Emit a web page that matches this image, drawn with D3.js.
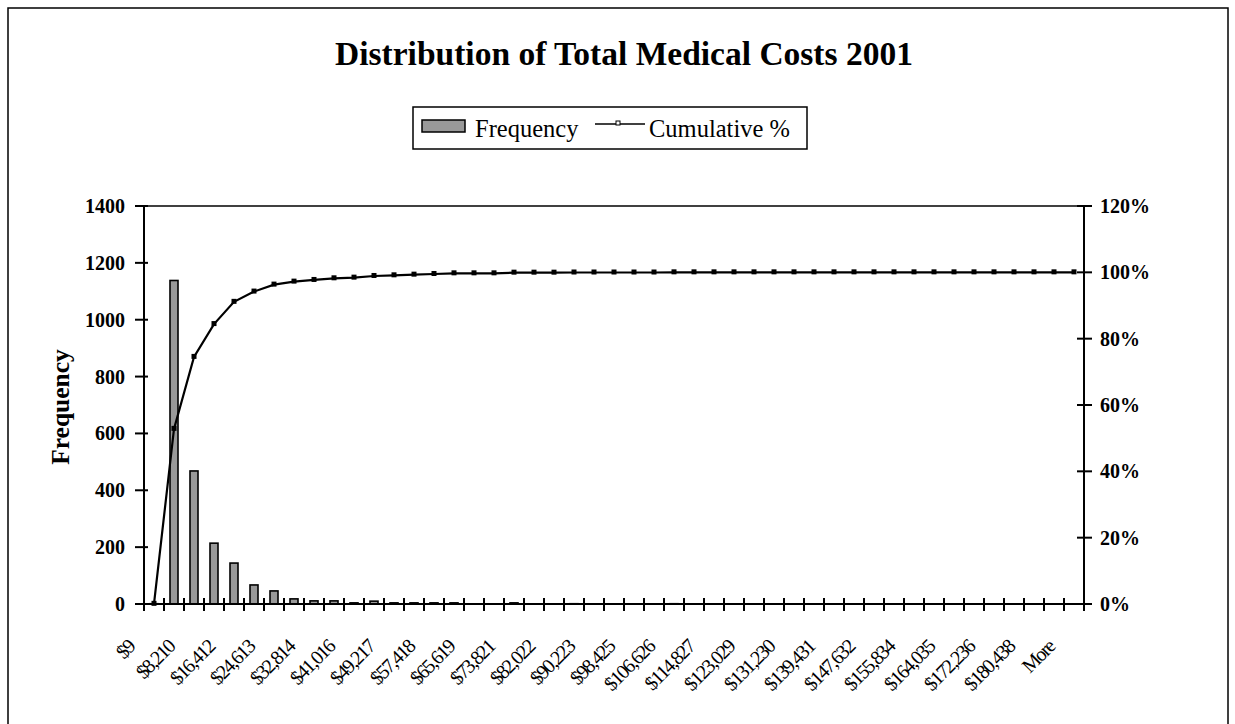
<!DOCTYPE html>
<html>
<head>
<meta charset="utf-8">
<script src="https://cdn.jsdelivr.net/npm/d3@7/dist/d3.min.js"></script>
<style>
  html, body { margin: 0; padding: 0; background: #fff; }
  svg { display: block; }
  text { font-family: "Liberation Serif", "Times New Roman", serif; fill: #000; }
</style>
</head>
<body>
<svg id="chart" width="1235" height="724"></svg>
<script>
// Histogram bins (upper bound of each cost bin)
const categories = [
  "$9", "$4,110", "$8,210", "$12,311", "$16,412", "$20,512", "$24,613", "$28,713",
  "$32,814", "$36,915", "$41,016", "$45,116", "$49,217", "$53,318", "$57,418", "$61,519",
  "$65,619", "$69,720", "$73,821", "$77,921", "$82,022", "$86,123", "$90,223", "$94,324",
  "$98,425", "$102,525", "$106,626", "$110,727", "$114,827", "$118,928", "$123,029", "$127,129",
  "$131,230", "$135,331", "$139,431", "$143,532", "$147,632", "$151,733", "$155,834", "$159,934",
  "$164,035", "$168,136", "$172,236", "$176,337", "$180,438", "$184,538", "More"
];

// Number of patients per bin
const frequency = [
  1, 1138, 468, 214, 144, 67, 46, 18, 11, 11, 4, 10, 4, 4, 4, 4,
  0, 0, 4, 0, 0, 1, 0, 0, 0, 0, 1, 0, 0, 0, 0, 0,
  0, 0, 0, 0, 0, 0, 0, 0, 0, 0, 0, 0, 0, 0, 0
];

// Cumulative share of patients (percent)
const cumulative = [
  0.05, 52.8, 74.5, 84.4, 91.1, 94.2, 96.3, 97.2, 97.7, 98.2, 98.4, 98.9, 99.1, 99.3, 99.5, 99.7,
  99.7, 99.7, 99.9, 99.9, 99.9, 99.95, 99.95, 99.95, 99.95, 99.95, 100, 100, 100, 100, 100, 100,
  100, 100, 100, 100, 100, 100, 100, 100, 100, 100, 100, 100, 100, 100, 100
];

const freqTicks = [0, 200, 400, 600, 800, 1000, 1200, 1400];
const pctTicks = [0, 0.2, 0.4, 0.6, 0.8, 1.0, 1.2];

const svg = d3.select("#chart");

// Outer chart frame
svg.append("rect")
  .attr("x", 8).attr("y", 8).attr("width", 1220).attr("height", 740)
  .attr("fill", "#fff").attr("stroke", "#000").attr("stroke-width", 1.5);

const plot = { left: 144, right: 1084, top: 206, bottom: 604 };

const x = d3.scaleBand()
  .domain(categories)
  .range([plot.left, plot.right])
  .paddingInner(0.6)
  .paddingOuter(0.3);
const step = x.step();
const boundary = i => plot.left + i * step;
const center = c => x(c) + x.bandwidth() / 2;

const yL = d3.scaleLinear().domain([0, 1400]).range([plot.bottom, plot.top]);
const yR = d3.scaleLinear().domain([0, 1.2]).range([plot.bottom, plot.top]);

// Title
svg.append("text")
  .attr("x", 624).attr("y", 65)
  .attr("text-anchor", "middle")
  .attr("font-size", 33.5).attr("font-weight", "bold")
  .text("Distribution of Total Medical Costs 2001");

// Legend
const lg = svg.append("g");
lg.append("rect")
  .attr("x", 413).attr("y", 107).attr("width", 394).attr("height", 42)
  .attr("fill", "#fff").attr("stroke", "#000").attr("stroke-width", 1.5);
lg.append("rect")
  .attr("x", 422).attr("y", 120).attr("width", 43).attr("height", 12)
  .attr("fill", "#999999").attr("stroke", "#000").attr("stroke-width", 1.5);
lg.append("text")
  .attr("x", 475).attr("y", 137)
  .attr("font-size", 24.5)
  .text("Frequency");
lg.append("line")
  .attr("x1", 595).attr("x2", 645).attr("y1", 124).attr("y2", 124)
  .attr("stroke", "#000").attr("stroke-width", 1.5);
lg.append("rect")
  .attr("x", 616).attr("y", 121).attr("width", 4).attr("height", 4)
  .attr("fill", "#fff").attr("stroke", "#000").attr("stroke-width", 1);
lg.append("text")
  .attr("x", 649).attr("y", 137)
  .attr("font-size", 24.5)
  .text("Cumulative %");

// Bars
svg.append("g").selectAll("rect")
  .data(categories)
  .join("rect")
  .attr("x", c => x(c))
  .attr("width", x.bandwidth())
  .attr("y", (c, i) => yL(frequency[i]))
  .attr("height", (c, i) => plot.bottom - yL(frequency[i]))
  .attr("fill", "#999999")
  .attr("stroke", "#000")
  .attr("stroke-width", 1.6);

// Axes lines and plot top edge
const axes = svg.append("g").attr("stroke", "#000").attr("stroke-width", 2).attr("fill", "none");
axes.append("line").attr("x1", plot.left).attr("x2", plot.right).attr("y1", plot.top).attr("y2", plot.top).attr("stroke-width", 1.5);
axes.append("line").attr("x1", plot.left).attr("x2", plot.left).attr("y1", plot.top).attr("y2", plot.bottom);
axes.append("line").attr("x1", plot.right).attr("x2", plot.right).attr("y1", plot.top).attr("y2", plot.bottom);
axes.append("line").attr("x1", plot.left - 1).attr("x2", plot.right + 1).attr("y1", plot.bottom).attr("y2", plot.bottom);

// Category boundary ticks (crossing the x axis)
axes.selectAll("line.xt")
  .data(d3.range(categories.length + 1))
  .join("line")
  .attr("class", "xt")
  .attr("x1", i => boundary(i)).attr("x2", i => boundary(i))
  .attr("y1", plot.bottom - 6).attr("y2", plot.bottom + 7);

// Left axis ticks and labels
axes.selectAll("line.yl")
  .data(freqTicks)
  .join("line")
  .attr("class", "yl")
  .attr("x1", plot.left - 9).attr("x2", plot.left + 4)
  .attr("y1", d => yL(d)).attr("y2", d => yL(d));
svg.append("g").selectAll("text")
  .data(freqTicks)
  .join("text")
  .attr("x", plot.left - 19)
  .attr("y", d => yL(d) + 7)
  .attr("text-anchor", "end")
  .attr("font-size", 20).attr("font-weight", "bold")
  .text(d => d);

// Right axis ticks and labels
axes.selectAll("line.yr")
  .data(pctTicks)
  .join("line")
  .attr("class", "yr")
  .attr("x1", plot.right - 7).attr("x2", plot.right + 8)
  .attr("y1", d => yR(d)).attr("y2", d => yR(d));
svg.append("g").selectAll("text")
  .data(pctTicks)
  .join("text")
  .attr("x", plot.right + 16)
  .attr("y", d => yR(d) + 7)
  .attr("font-size", 20).attr("font-weight", "bold")
  .text(d => d3.format(".0%")(d));

// Left axis title
svg.append("text")
  .attr("transform", "translate(69,407) rotate(-90)")
  .attr("text-anchor", "middle")
  .attr("font-size", 25.5).attr("font-weight", "bold")
  .text("Frequency");

// Category labels, every second bin, rotated
svg.append("g").selectAll("text")
  .data(categories.filter((c, i) => i % 2 === 0))
  .join("text")
  .attr("transform", c => `translate(${center(c) - 18},${plot.bottom + 44}) rotate(-45)`)
  .attr("text-anchor", "end")
  .attr("font-size", 20)
  .attr("letter-spacing", "-1.6px")
  .text(c => c);

// Cumulative % line with square markers
const line = d3.line()
  .x((d, i) => center(categories[i]))
  .y(d => yR(d / 100));
svg.append("path")
  .datum(cumulative)
  .attr("d", line)
  .attr("fill", "none")
  .attr("stroke", "#000")
  .attr("stroke-width", 2.2);
svg.append("g").selectAll("rect")
  .data(cumulative)
  .join("rect")
  .attr("x", (d, i) => center(categories[i]) - 2.5)
  .attr("y", d => yR(d / 100) - 3)
  .attr("width", 5).attr("height", 5)
  .attr("fill", "#000");
</script>
</body>
</html>
